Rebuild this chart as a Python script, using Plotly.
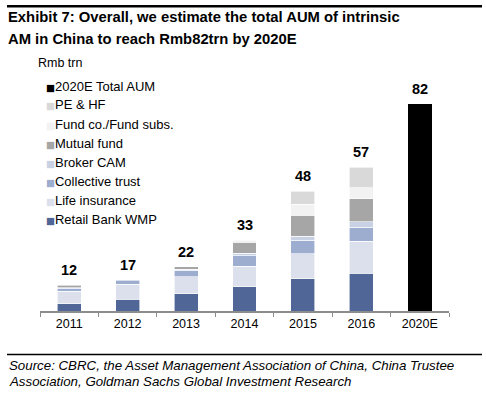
import plotly.graph_objects as go

# ---------------- data ----------------
years = ["2011", "2012", "2013", "2014", "2015", "2016", "2020E"]
retail_bank_wmp = [2.9, 4.6, 6.9, 9.6, 12.8, 15.0, None]
life_insurance = [5.0, 6.1, 6.7, 8.2, 9.9, 12.6, None]
collective_trust = [0.9, 1.6, 2.6, 4.2, 5.4, 5.6, None]
broker_cam = [0.5, None, 0.4, 0.9, 1.6, 2.2, None]
mutual_fund = [0.9, None, 0.9, 4.4, 8.3, 9.1, None]
fund_co = [None, None, None, 0.8, 4.4, 4.4, None]
pe_hf = [None, None, None, None, 5.2, 8.2, None]
total_2020e = [None, None, None, None, None, None, 82]
total_labels = ["12", "17", "22", "33", "48", "57", "82"]

series = [
    ("Retail Bank WMP", retail_bank_wmp, "#506696"),
    ("Life insurance", life_insurance, "#DCE0EC"),
    ("Collective trust", collective_trust, "#9DADD0"),
    ("Broker CAM", broker_cam, "#C9D2E5"),
    ("Mutual fund", mutual_fund, "#A6A6A6"),
    ("Fund co./Fund subs.", fund_co, "#F2F2F2"),
    ("PE & HF", pe_hf, "#D9D9D9"),
    ("2020E Total AUM", total_2020e, "#000000"),
]

W, H = 486, 394
PL, PR, PT, PB = 40, 449, 60, 311  # plot area in pixels
YMAX = 99.6

fig = go.Figure()
for name, vals, col in series:
    fig.add_trace(go.Bar(
        x=years, y=vals, name=name, showlegend=False,
        marker=dict(color=col, line=dict(color="white", width=0.6 if col != "#000000" else 0)),
    ))

def px2paper(xp, yp):
    return (xp - PL) / (PR - PL), (PB - yp) / (PB - PT)

annotations = []
# totals above bars (x given as category serial number)
for i, yr in enumerate(years):
    s = sum(v[i] or 0 for _, v, _ in series)
    annotations.append(dict(
        x=i, y=s, xref="x", yref="y", text=total_labels[i], showarrow=False,
        yanchor="middle", yshift=15,
        font=dict(family="Liberation Sans, Arial", size=14.5, color="#000000", weight="bold"),
    ))

# legend (manual, top entry = last series)
font_txt = "Liberation Sans, Arial"
for k, (name, vals, col) in enumerate(reversed(series)):
    xx, yy = px2paper(44, 86 + 19 * k)
    annotations.append(dict(
        x=xx, y=yy, xref="paper", yref="paper", xanchor="left", yanchor="middle",
        showarrow=False,
        text=f"<span style='color:{col};font-family:DejaVu Sans;font-size:9.5px'>■</span>{name}",
        font=dict(family=font_txt, size=13, color="#000000"),
    ))

# axis unit label
xx, yy = px2paper(36, 63)
annotations.append(dict(x=xx, y=yy, xref="paper", yref="paper", xanchor="left", yanchor="middle",
                        showarrow=False, text="Rmb trn",
                        font=dict(family=font_txt, size=12.5, color="#000000")))

# title
for line, yc in [("Exhibit 7: Overall, we estimate the total AUM of intrinsic", 17.5),
                 ("AM in China to reach Rmb82trn by 2020E", 38.5)]:
    xx, yy = px2paper(6, yc)
    annotations.append(dict(x=xx, y=yy, xref="paper", yref="paper", xanchor="left", yanchor="middle",
                            showarrow=False, text=line,
                            font=dict(family=font_txt, size=14.8, color="#000000", weight="bold")))

# source
for line, yc in [("Source: CBRC, the Asset Management Association of China, China Trustee", 365),
                 ("Association, Goldman Sachs Global Investment Research", 381.5)]:
    xx, yy = px2paper(7, yc)
    annotations.append(dict(x=xx, y=yy, xref="paper", yref="paper", xanchor="left", yanchor="middle",
                            showarrow=False, text=line,
                            font=dict(family=font_txt, size=13.3, color="#000000", style="italic")))

lx0, ty0 = px2paper(7, 5)
lx1, ty1 = px2paper(482, 7.5)
_, by0 = px2paper(0, 353.8)
_, by1 = px2paper(0, 355.2)
shapes = [
    dict(type="rect", xref="paper", yref="paper", x0=lx0, x1=lx1, y0=ty0, y1=ty1,
         fillcolor="#000000", line=dict(width=0), layer="above"),
    dict(type="rect", xref="paper", yref="paper", x0=lx0, x1=lx1, y0=by0, y1=by1,
         fillcolor="#000000", line=dict(width=0), layer="above"),
]

fig.update_layout(
    width=W, height=H,
    margin=dict(l=PL, r=W - PR, t=PT, b=H - PB, pad=0),
    barmode="stack", bargap=0.59,
    plot_bgcolor="white", paper_bgcolor="white",
    showlegend=False,
    annotations=annotations, shapes=shapes,
    xaxis=dict(
        type="category", categoryorder="array", categoryarray=years,
        range=[-0.5, len(years) - 0.5],
        showline=True, linecolor="#8C8C8C", linewidth=2,
        ticks="outside", tickson="boundaries", ticklen=4, tickcolor="#8C8C8C", tickwidth=1,
        tickfont=dict(family=font_txt, size=12.5, color="#000000"),
        showgrid=False, zeroline=False,
    ),
    yaxis=dict(range=[0, YMAX], visible=False, showgrid=False, zeroline=False),
)

fig.write_html("out.html",
               config={"displayModeBar": False},
               post_script="document.body.style.margin='0';document.body.style.padding='0';")
